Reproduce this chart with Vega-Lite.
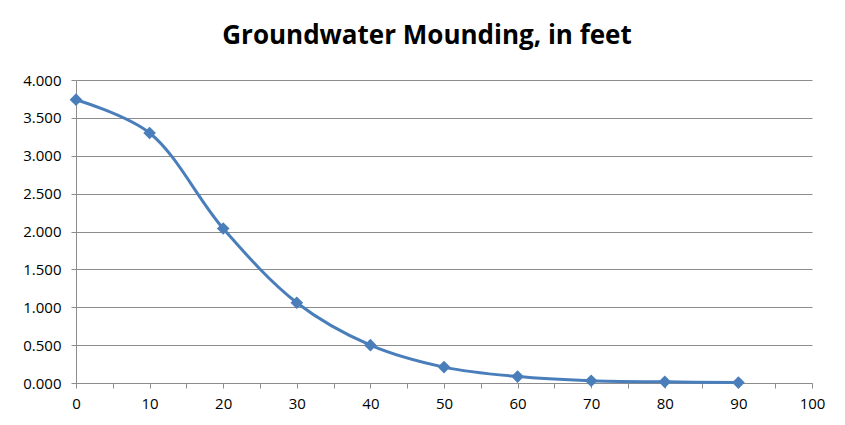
{
  "$schema": "https://vega.github.io/schema/vega-lite/v6.json",
  "width": 736,
  "height": 303,
  "autosize": "none",
  "padding": {"left": 76, "top": 80, "right": 33, "bottom": 42},
  "background": "white",
  "title": {
    "text": "Groundwater Mounding, in feet",
    "anchor": "middle",
    "fontSize": 26,
    "fontWeight": "bold",
    "font": "Open Sans",
    "color": "#000000",
    "offset": 24,
    "dx": -17
  },
  "data": {
    "values": [
      {"x": 0, "y": 3.74},
      {"x": 10, "y": 3.30},
      {"x": 20, "y": 2.04},
      {"x": 30, "y": 1.06},
      {"x": 40, "y": 0.50},
      {"x": 50, "y": 0.21},
      {"x": 60, "y": 0.085},
      {"x": 70, "y": 0.03},
      {"x": 80, "y": 0.015},
      {"x": 90, "y": 0.005}
    ]
  },
  "encoding": {
    "x": {
      "field": "x",
      "type": "quantitative",
      "scale": {"domain": [0, 100], "nice": false, "zero": true},
      "axis": {
        "title": null,
        "values": [0,5,10,15,20,25,30,35,40,45,50,55,60,65,70,75,80,85,90,95,100],
        "labelExpr": "datum.value % 10 === 0 ? datum.value : ''",
        "labelFlush": false,
        "labelOverlap": false,
        "grid": false,
        "domainColor": "#8c8c8c",
        "tickColor": "#8c8c8c",
        "tickSize": 5,
        "labelFont": "Open Sans",
        "labelFontSize": 15,
        "labelColor": "#000000",
        "labelPadding": 8
      }
    },
    "y": {
      "field": "y",
      "type": "quantitative",
      "scale": {"domain": [0, 4], "nice": false},
      "axis": {
        "title": null,
        "values": [0, 0.5, 1, 1.5, 2, 2.5, 3, 3.5, 4],
        "format": ".3f",
        "labelFlush": false,
        "labelOverlap": false,
        "grid": true,
        "gridColor": "#8c8c8c",
        "domainColor": "#8c8c8c",
        "tickColor": "#8c8c8c",
        "tickSize": 5,
        "labelFont": "Open Sans",
        "labelFontSize": 15,
        "labelColor": "#000000",
        "labelPadding": 10
      }
    }
  },
  "layer": [
    {
      "mark": {"type": "line", "interpolate": "catmull-rom", "color": "#4a7ebb", "strokeWidth": 3}
    },
    {
      "mark": {"type": "point", "shape": "diamond", "filled": true, "color": "#4a7ebb", "size": 160, "opacity": 1}
    }
  ],
  "config": {"view": {"stroke": null}}
}
